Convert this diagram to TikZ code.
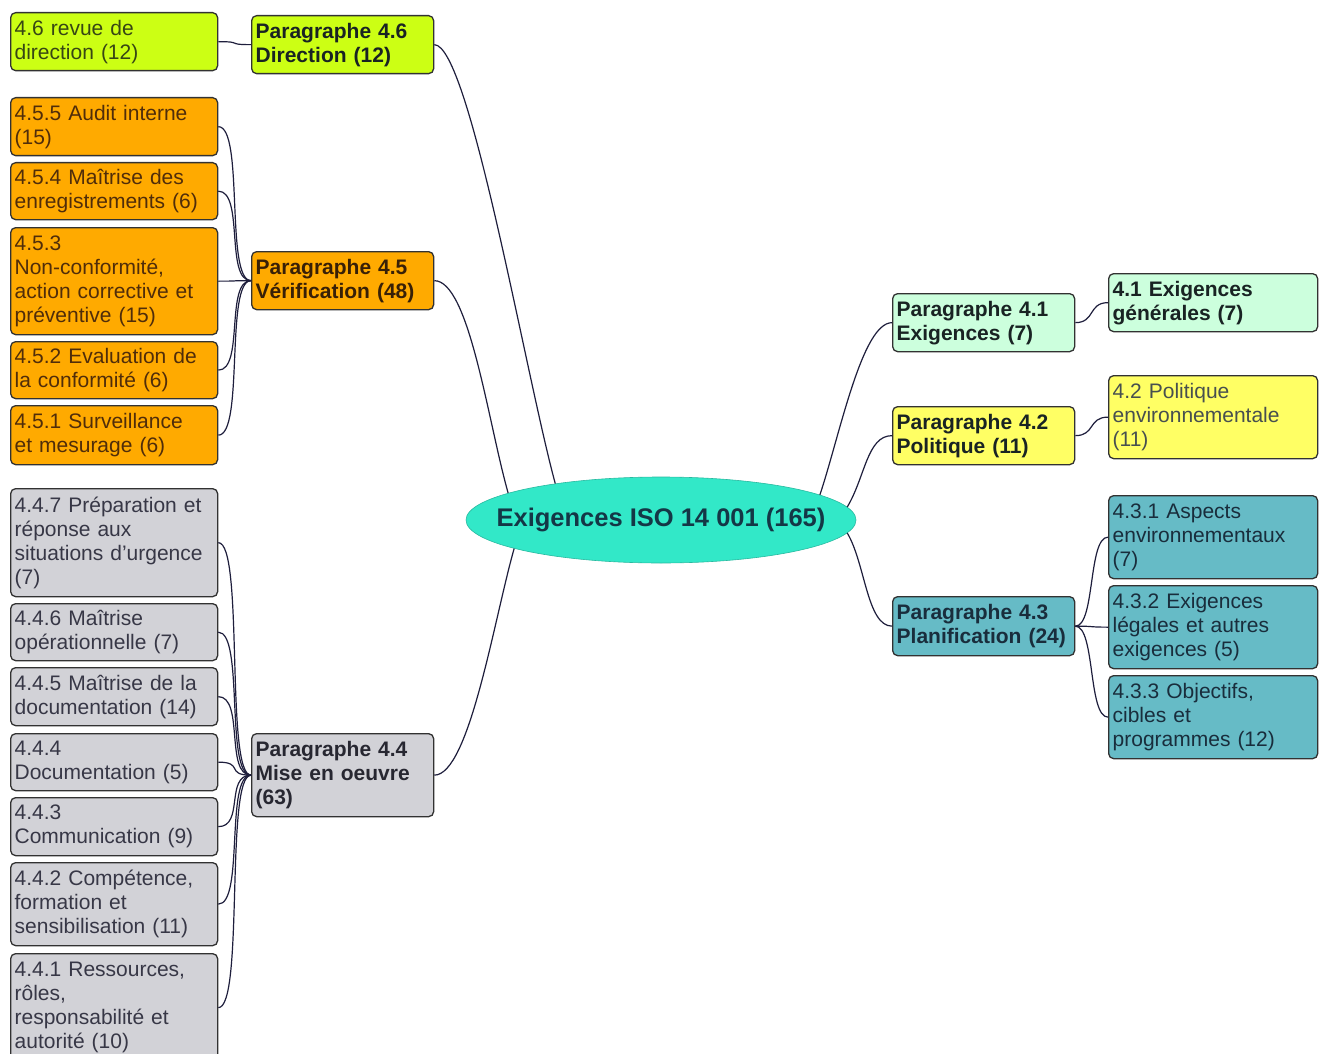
\documentclass[tikz,border=0pt]{standalone}
\usepackage{fontspec}
\setmainfont{Liberation Sans}
\usetikzlibrary{shapes.geometric}
\definecolor{limefill}{RGB}{204,255,20}
\definecolor{orangefill}{RGB}{255,170,0}
\definecolor{grayfill}{RGB}{210,210,215}
\definecolor{greenfill}{RGB}{204,255,221}
\definecolor{yellowfill}{RGB}{255,255,100}
\definecolor{tealfill}{RGB}{102,187,198}
\definecolor{rootfill}{RGB}{50,232,200}
\definecolor{boxline}{RGB}{50,50,50}
\definecolor{linkcol}{RGB}{30,30,60}
\definecolor{limetext}{RGB}{55,70,20}
\definecolor{orangetext}{RGB}{80,45,10}
\definecolor{graytext}{RGB}{55,55,70}
\definecolor{darktext}{RGB}{25,35,35}
\definecolor{tealtext}{RGB}{25,45,60}
\definecolor{roottext}{RGB}{20,55,70}
\tikzset{
  box/.style={draw=boxline, line width=1.3pt, rounded corners=5pt, anchor=north west,
    align=left, inner xsep=4pt, inner ysep=0pt, font=\fontsize{21}{24}\selectfont},
  leafbox/.style={box, text width=199pt},
  parabox/.style={box, text width=174pt, font=\fontsize{21}{24}\selectfont\bfseries},
  rleafbox/.style={box, text width=201pt},
  link/.style={draw=linkcol, line width=1.2pt},
}
\begin{document}
\begin{tikzpicture}[x=1pt,y=-1pt]
\useasboundingbox[fill=white] (0,0) rectangle (1323,1054);

% root
\node[ellipse, draw=rootfill!80!black, line width=0.6pt, fill=rootfill, minimum width=390pt, minimum height=86pt, inner sep=0pt,
  font=\fontsize{25.5}{28}\selectfont\bfseries, text=roottext] (root) at (661,520)
  {\makebox[0pt][c]{Exigences ISO 14 001 (165)}};

% paragraph 4.6
\node[leafbox, fill=limefill, text=limetext, minimum height=58pt] (l46) at (10,12) {4.6 revue de\\direction (12)};
\node[parabox, fill=limefill, text=darktext, minimum height=58pt] (p46) at (251,15) {Paragraphe 4.6\\Direction (12)};

% paragraph 4.5
\node[leafbox, fill=orangefill, text=orangetext, minimum height=58pt] (l455) at (10,97) {4.5.5 Audit interne\\(15)};
\node[leafbox, fill=orangefill, text=orangetext, minimum height=57pt] (l454) at (10,162) {4.5.4 Maîtrise des\\enregistrements (6)};
\node[leafbox, fill=orangefill, text=orangetext, minimum height=107pt] (l453) at (10,227) {4.5.3\\Non-conformité,\\action corrective et\\préventive (15)};
\node[leafbox, fill=orangefill, text=orangetext, minimum height=57pt] (l452) at (10,341) {4.5.2 Evaluation de\\la conformité (6)};
\node[leafbox, fill=orangefill, text=orangetext, minimum height=59pt] (l451) at (10,405) {4.5.1 Surveillance\\et mesurage (6)};
\node[parabox, fill=orangefill, text=orangetext!70!black, minimum height=58pt] (p45) at (251,251) {Paragraphe 4.5\\Vérification (48)};

% paragraph 4.4
\node[leafbox, fill=grayfill, text=graytext, minimum height=108pt] (l447) at (10,488) {4.4.7 Préparation et\\réponse aux\\situations d'urgence\\(7)};
\node[leafbox, fill=grayfill, text=graytext, minimum height=57pt] (l446) at (10,603) {4.4.6 Maîtrise\\opérationnelle (7)};
\node[leafbox, fill=grayfill, text=graytext, minimum height=58pt] (l445) at (10,667) {4.4.5 Maîtrise de la\\documentation (14)};
\node[leafbox, fill=grayfill, text=graytext, minimum height=57pt] (l444) at (10,733) {4.4.4\\Documentation (5)};
\node[leafbox, fill=grayfill, text=graytext, minimum height=58pt] (l443) at (10,797) {4.4.3\\Communication (9)};
\node[leafbox, fill=grayfill, text=graytext, minimum height=83pt] (l442) at (10,862) {4.4.2 Compétence,\\formation et\\sensibilisation (11)};
\node[leafbox, fill=grayfill, text=graytext, minimum height=108pt] (l441) at (10,953) {4.4.1 Ressources,\\rôles,\\responsabilité et\\autorité (10)};
\node[parabox, fill=grayfill, text=graytext!70!black, minimum height=83pt] (p44) at (251,733) {Paragraphe 4.4\\Mise en oeuvre\\(63)};

% right side
\node[parabox, fill=greenfill, text=darktext, minimum height=58pt] (p41) at (892,293) {Paragraphe 4.1\\Exigences (7)};
\node[rleafbox, fill=greenfill, text=darktext, font=\fontsize{21}{24}\selectfont\bfseries, minimum height=58pt] (l41) at (1108,273) {4.1 Exigences\\générales (7)};
\node[parabox, fill=yellowfill, text=darktext, minimum height=58pt] (p42) at (892,406) {Paragraphe 4.2\\Politique (11)};
\node[rleafbox, fill=yellowfill, text=darktext!80, minimum height=83pt] (l42) at (1108,375) {4.2 Politique\\environnementale\\(11)};
\node[parabox, fill=tealfill, text=tealtext, minimum height=59pt] (p43) at (892,596) {Paragraphe 4.3\\Planification (24)};
\node[rleafbox, fill=tealfill, text=tealtext, minimum height=83pt] (l431) at (1108,495) {4.3.1 Aspects\\environnementaux\\(7)};
\node[rleafbox, fill=tealfill, text=tealtext, minimum height=83pt] (l432) at (1108,585) {4.3.2 Exigences\\légales et autres\\exigences (5)};
\node[rleafbox, fill=tealfill, text=tealtext, minimum height=83pt] (l433) at (1108,675) {4.3.3 Objectifs,\\cibles et\\programmes (12)};

% root connectors
\draw[link] (p46.east) .. controls +(35,0) and +(-30,-110) .. (root.161);
\draw[link] (p45.east) .. controls +(35,0) and +(-20,-70) .. (root.170);
\draw[link] (p44.east) .. controls +(35,0) and +(-20,70) .. (root.191);
\draw[link] (root.9) .. controls +(20,-60) and +(-30,0) .. (p41.west);
\draw[link] (root.4) .. controls +(18,-30) and +(-25,0) .. (p42.west);
\draw[link] (root.356) .. controls +(18,30) and +(-25,0) .. (p43.west);

% left leaf connectors
\foreach \c/\p in {l46/p46, l455/p45, l454/p45, l453/p45, l452/p45, l451/p45,
  l447/p44, l446/p44, l445/p44, l444/p44, l443/p44, l442/p44, l441/p44}
  \draw[link] (\c.east) .. controls +(26,0) and +(-26,0) .. (\p.west);

% right leaf connectors
\foreach \p/\c in {p41/l41, p42/l42, p43/l431, p43/l432, p43/l433}
  \draw[link] (\p.east) .. controls +(20,0) and +(-20,0) .. (\c.west);
\end{tikzpicture}
\end{document}
